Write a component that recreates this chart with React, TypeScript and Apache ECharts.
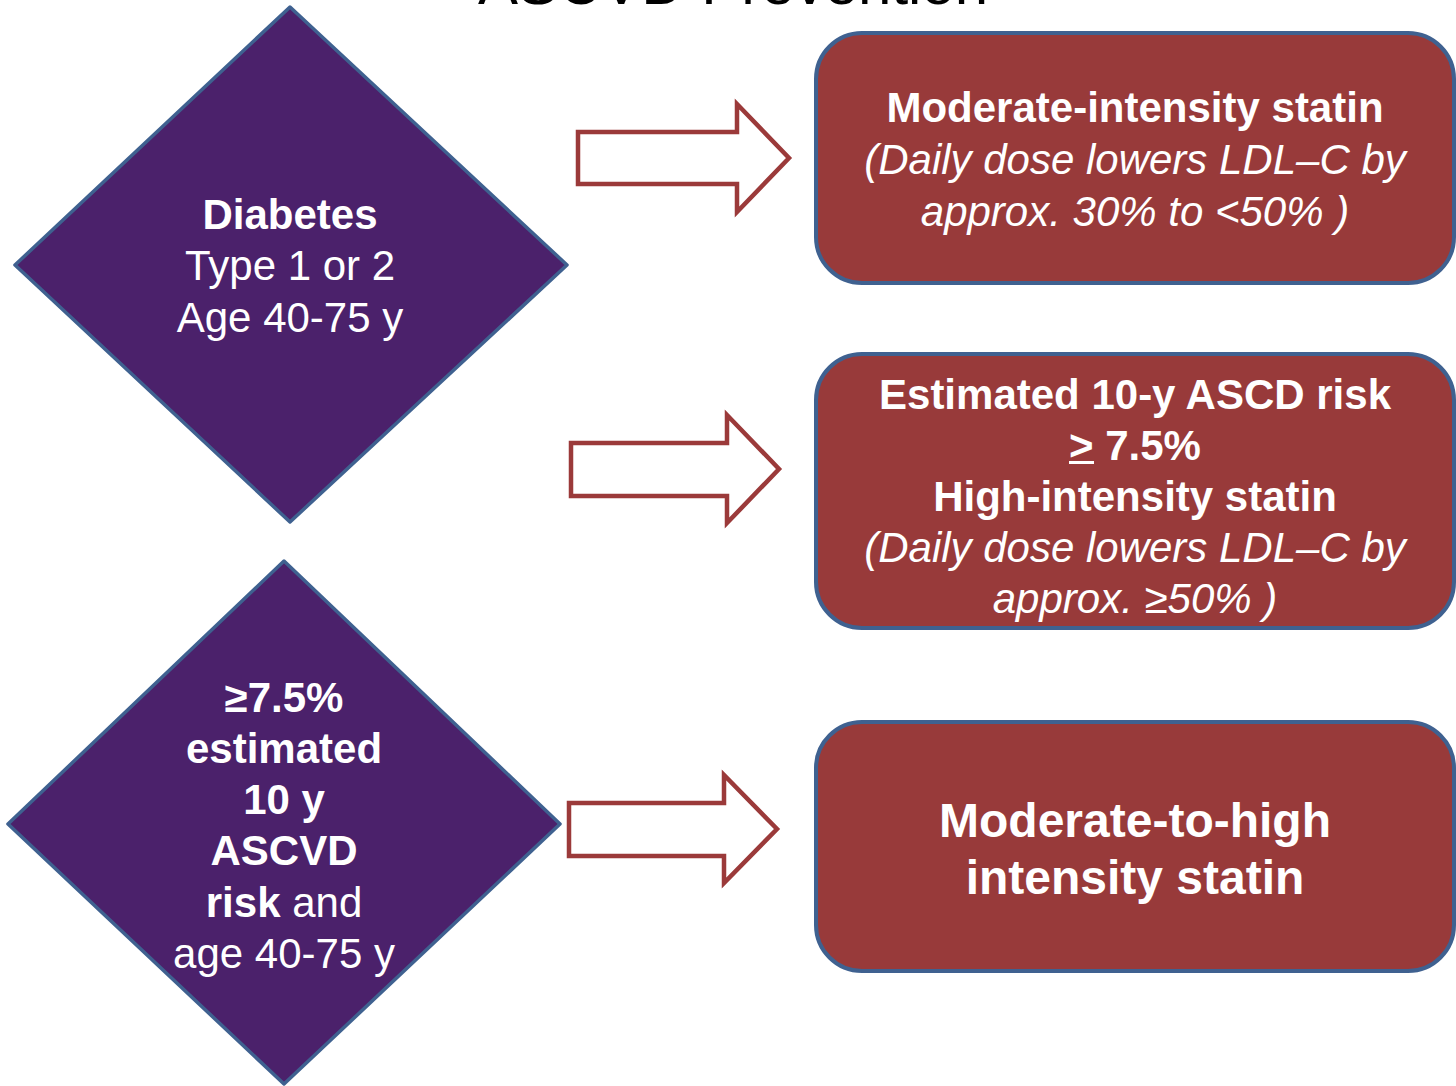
import React, { useEffect, useRef } from "react";
import * as echarts from "echarts";

const TITLE = "ASCVD Prevention";
const DIAMOND_TOP_LINES = [
  { text: "Diabetes", bold: true },
  { text: "Type 1 or 2", bold: false },
  { text: "Age 40-75 y", bold: false },
];
const DIAMOND_BOTTOM_LINES = [
  { text: "≥7.5%", bold: true },
  { text: "estimated", bold: true },
  { text: "10 y", bold: true },
  { text: "ASCVD", bold: true },
  { text: "{b|risk}{r| and}", bold: true },
  { text: "age 40-75 y", bold: false },
];
const BOX1_LINES = [
  { text: "Moderate-intensity statin", bold: true, italic: false },
  { text: "(Daily dose lowers LDL–C by", bold: false, italic: true },
  { text: "approx. 30% to <50% )", bold: false, italic: true },
];
const BOX2_LINES = [
  { text: "Estimated 10-y ASCD risk", bold: true, italic: false },
  { text: "> 7.5%", bold: true, italic: false },
  { text: "High-intensity statin", bold: true, italic: false },
  { text: "(Daily dose lowers LDL–C by", bold: false, italic: true },
  { text: "approx. ≥50% )", bold: false, italic: true },
];
const BOX3_LINES = [
  { text: "Moderate-to-high", bold: true, italic: false },
  { text: "intensity statin", bold: true, italic: false },
];

const FONT = "'Liberation Sans', Arial, Helvetica, sans-serif";
const PURPLE = "#4B216B";
const BLUE = "#3F6190";
const RED = "#983A3A";
const ARROW_RED = "#9B3A3A";

function lineTexts(lines: any[], cx: number, y0: number, step: number, size: number) {
  return lines.map((l, i) => ({
    type: "text",
    x: cx,
    y: y0 + i * step,
    z: 10,
    style: {
      text: l.text,
      fill: "#ffffff",
      fontSize: size,
      fontWeight: l.bold ? "bold" : "normal",
      fontStyle: l.italic ? "italic" : "normal",
      fontFamily: FONT,
      align: "center",
      verticalAlign: "middle",
      rich: {
        b: { fontSize: size, fontWeight: "bold", fontFamily: FONT, fill: "#fff", color: "#fff" },
        r: { fontSize: size, fontWeight: "normal", fontFamily: FONT, fill: "#fff", color: "#fff" },
      },
    },
  }));
}

function diamond(cx: number, top: number, left: number, right: number, bottom: number, cy: number) {
  return {
    type: "polygon",
    z: 1,
    shape: { points: [[cx, top], [right, cy], [cx, bottom], [left, cy]] },
    style: { fill: PURPLE, stroke: BLUE, lineWidth: 3.5, lineJoin: "round" },
  };
}

function arrow(x0: number, xh: number, tip: number, bTop: number, bBot: number, hTop: number, hBot: number) {
  const cy = (hTop + hBot) / 2;
  return {
    type: "polygon",
    z: 1,
    shape: {
      points: [[x0, bTop], [xh, bTop], [xh, hTop], [tip, cy], [xh, hBot], [xh, bBot], [x0, bBot]],
    },
    style: { fill: "#ffffff", stroke: ARROW_RED, lineWidth: 4.5, lineJoin: "miter" },
  };
}

function box(x: number, y: number, w: number, h: number) {
  return {
    type: "rect",
    z: 1,
    shape: { x, y, width: w, height: h, r: 46 },
    style: { fill: RED, stroke: BLUE, lineWidth: 4 },
  };
}

export default function App() {
  const ref = useRef<HTMLDivElement>(null);
  useEffect(() => {
    document.body.style.margin = "0";
    const chart = echarts.init(ref.current!, null, { renderer: "svg" });
    const graphic: any[] = [
      {
        type: "text",
        x: 733,
        y: -17,
        style: {
          text: TITLE,
          fill: "#000",
          fontSize: 60,
          fontFamily: FONT,
          align: "center",
          verticalAlign: "middle",
        },
      },
      diamond(290, 7, 15, 567, 522, 265),
      diamond(284, 561, 8, 560, 1084, 824),
      arrow(578, 737, 789, 132, 184, 104, 212),
      arrow(571, 727, 779, 443, 496, 415, 523),
      arrow(569, 724, 777, 803, 856, 775, 883),
      box(816, 33, 638, 250),
      box(816, 354, 638, 274),
      box(816, 722, 638, 249),
      ...lineTexts(DIAMOND_TOP_LINES, 290, 214, 51.5, 42),
      ...lineTexts(DIAMOND_BOTTOM_LINES, 284, 697, 51.3, 42),
      ...lineTexts(BOX1_LINES, 1135, 107, 52, 42),
      ...lineTexts(BOX2_LINES, 1135, 394, 51, 42),
      ...lineTexts(BOX3_LINES, 1135, 820, 57, 48),
      {
        type: "rect",
        z: 11,
        shape: { x: 1069, y: 461, width: 25, height: 3 },
        style: { fill: "#ffffff" },
      },
    ];
    chart.setOption({
      animation: false,
      backgroundColor: "#ffffff",
      graphic,
    });
    return () => chart.dispose();
  }, []);
  return <div ref={ref} style={{ width: 1456, height: 1086 }} />;
}
